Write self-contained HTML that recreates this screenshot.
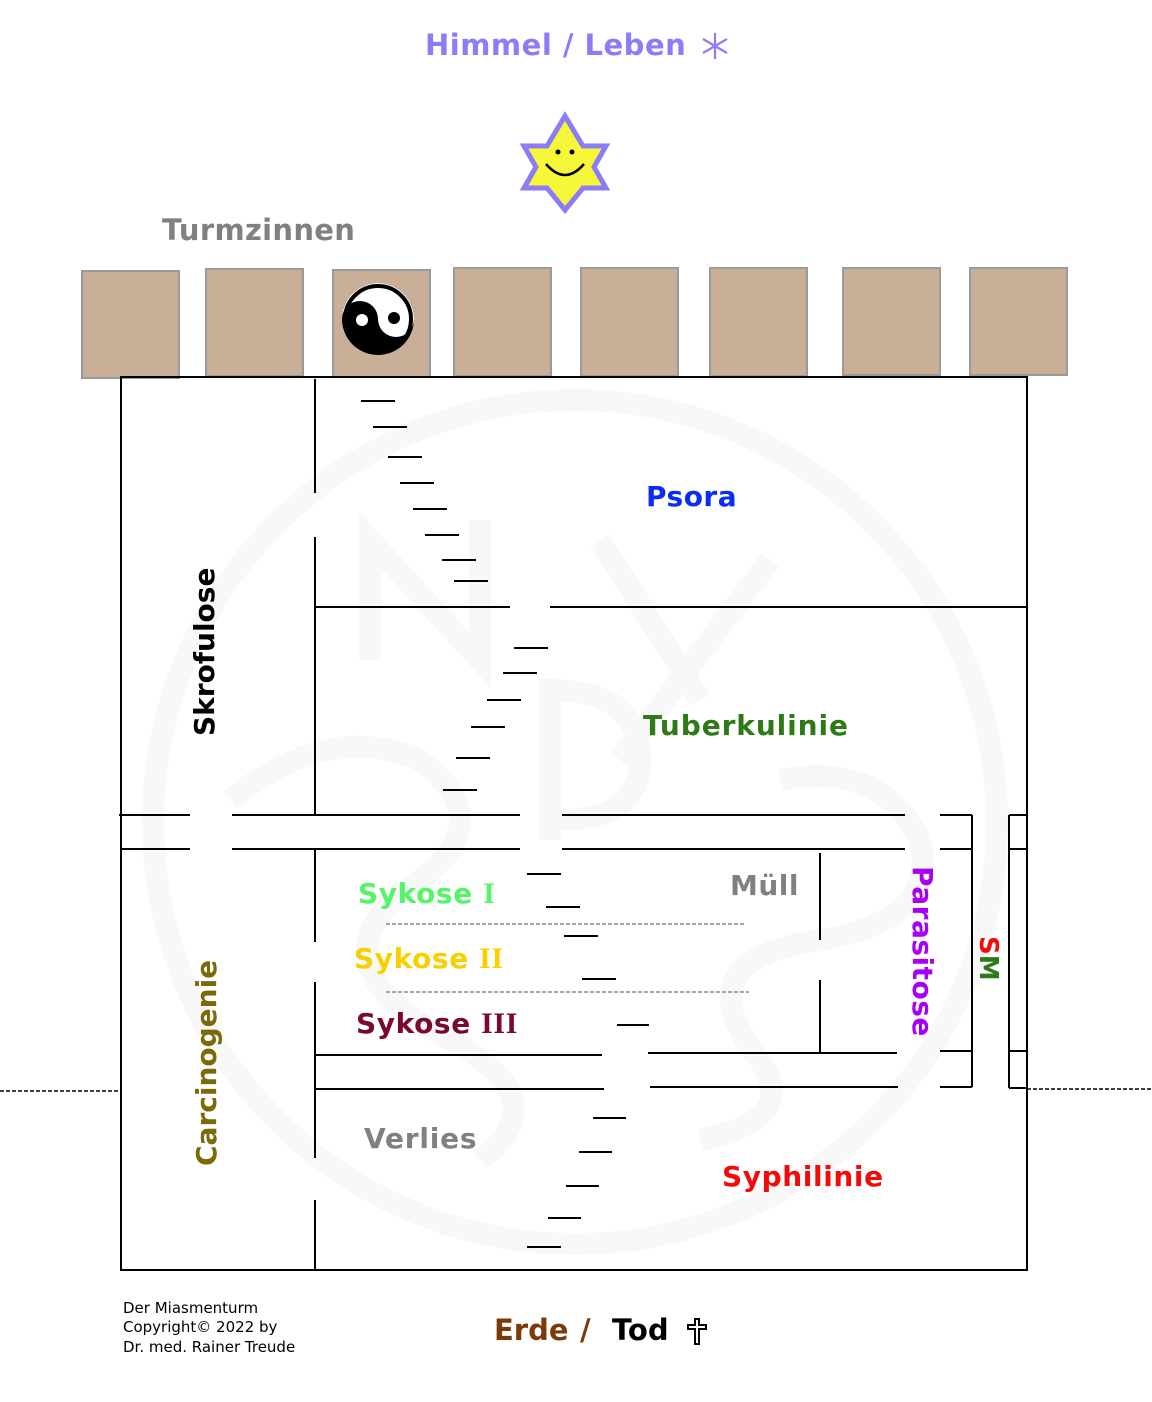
<!DOCTYPE html>
<html><head><meta charset="utf-8"><style>
html,body{margin:0;padding:0;background:#fff}
svg{display:block}
text{font-family:"DejaVu Sans","Liberation Sans",sans-serif;font-weight:bold}
text.n{font-weight:normal}
</style></head><body>
<svg width="1152" height="1402" viewBox="0 0 1152 1402" xmlns="http://www.w3.org/2000/svg">
<!-- watermark -->
<g fill="none" stroke="#f8f8f8" stroke-width="22">
<circle cx="575" cy="822" r="422"/>
<path d="M370 660 L370 540 L480 660 L480 520"/>
<path d="M600 540 L700 700 M770 560 L620 760"/>
<path d="M550 840 L550 690 Q640 690 640 760 Q640 820 560 820"/>
<path d="M230 800 Q330 720 420 760 Q500 820 420 880 Q300 960 450 1040 Q560 1100 480 1160"/>
<path d="M780 780 Q880 760 920 840 Q940 920 820 940 Q680 960 760 1060 Q800 1120 700 1140"/>
</g>
<!-- title -->
<text x="425" y="55" font-size="29" fill="#8b7cf7" letter-spacing="0.5">Himmel / Leben</text>
<g stroke="#8b7cf7" stroke-width="2.2"><path d="M715 33V59 M703 39L727 53 M703 53L727 39"/></g>
<!-- star -->
<polygon points="565,116 583,146 606,146 594,167 606,188 583,188 565,210 547,188 524,188 536,167 524,146 547,146" fill="#f7f73a" stroke="#8b7cf7" stroke-width="5"/>
<circle cx="558" cy="152" r="2.5" fill="#000"/><circle cx="572" cy="152" r="2.5" fill="#000"/>
<path d="M546 164 Q565 186 584 164" fill="none" stroke="#000" stroke-width="2.5"/>
<text x="162" y="240" font-size="29" fill="#808080" letter-spacing="0.3">Turmzinnen</text>
<!-- blocks -->
<g fill="#c9ae98" stroke="#9a9a9a" stroke-width="2">
<rect x="82" y="271" width="97" height="107"/>
<rect x="206" y="269" width="97" height="107"/>
<rect x="333" y="270" width="97" height="107"/>
<rect x="454" y="268" width="97" height="108"/>
<rect x="581" y="268" width="97" height="108"/>
<rect x="710" y="268" width="97" height="108"/>
<rect x="843" y="268" width="97" height="107"/>
<rect x="970" y="268" width="97" height="107"/>
</g>
<!-- yin yang -->
<circle cx="378" cy="319" r="36" fill="#000"/>
<path d="M342 319 A36 36 0 0 1 414 319 Z" fill="#fff"/>
<circle cx="360" cy="319" r="18" fill="#000"/>
<circle cx="396" cy="319" r="18" fill="#fff"/>
<circle cx="362" cy="320" r="6" fill="#fff"/>
<circle cx="394" cy="318" r="6" fill="#000"/>
<circle cx="378" cy="319" r="33" fill="none" stroke="#000" stroke-width="4"/>
<!-- main box -->
<rect x="121" y="377" width="906" height="893" fill="none" stroke="#000" stroke-width="2"/>
<g stroke="#000" stroke-width="2" fill="none">
<path d="M315 379V493 M315 537V815 M315 850V942 M315 982V1158 M315 1200V1270"/>
<path d="M315 607H510 M550 607H1027"/>
<path d="M119 815H190 M232 815H520 M562 815H905 M940 815H972"/>
<path d="M121 849H190 M232 849H520 M562 849H905 M940 849H972"/>
<path d="M972 815V1087"/>
<path d="M315 1055H602 M648 1053H897 M940 1051H972"/>
<path d="M315 1089H604 M650 1087H898 M940 1087H972"/>
<path d="M820 853V940 M820 980V1053"/>
<path d="M1009 815V1088 M1009 815H1027 M1009 849H1027 M1009 1051H1027 M1009 1088H1027"/>
<path d="M361 401H395 M373 427H407 M388 457H422 M400 483H434 M413 509H447 M425 535H459 M442 560H476 M454 581H488"/>
<path d="M514 648H548 M503 673H537 M487 700H521 M471 727H505 M456 758H490 M443 790H477"/>
<path d="M527 874H561 M546 907H580 M564 936H598 M582 979H616 M617 1025H649"/>
<path d="M593 1118H626 M579 1152H612 M566 1186H599 M548 1218H581 M527 1247H561"/>
</g>
<g stroke="#888" stroke-width="1.5" stroke-dasharray="4 2">
<path d="M386 924H746 M386 992H749"/>
</g>
<g stroke="#000" stroke-width="1.5" stroke-dasharray="4 2">
<path d="M0 1091H121 M1027 1089H1152"/>
</g>
<!-- labels -->
<text x="646" y="506" font-size="28" fill="#0a2cf5" letter-spacing="0.5">Psora</text>
<text x="643" y="735" font-size="28" fill="#2e7a16" letter-spacing="0.9">Tuberkulinie</text>
<text x="358" y="903" font-size="28" fill="#55f56a" letter-spacing="0.6">Sykose <tspan font-family="Liberation Serif" font-size="30">I</tspan></text>
<text x="354" y="968" font-size="28" fill="#f7d000" letter-spacing="0.6">Sykose <tspan font-family="Liberation Serif" font-size="30">II</tspan></text>
<text x="356" y="1033" font-size="28" fill="#7a0a2a" letter-spacing="0.6">Sykose <tspan font-family="Liberation Serif" font-size="30">III</tspan></text>
<text x="730" y="895" font-size="28" fill="#808080" letter-spacing="0.5">Müll</text>
<text x="364" y="1148" font-size="28" fill="#808080" letter-spacing="0.8">Verlies</text>
<text x="722" y="1186" font-size="28" fill="#f50a0a" letter-spacing="0.6">Syphilinie</text>
<text transform="translate(214,736) rotate(-90)" font-size="28" fill="#000">Skrofulose</text>
<text transform="translate(216,1166) rotate(-90)" font-size="28" fill="#7a6a0a">Carcinogenie</text>
<text transform="translate(913,866) rotate(90)" font-size="28" fill="#a800f5" letter-spacing="0.5">Parasitose</text>
<text transform="translate(980,936) rotate(90)" font-size="26"><tspan fill="#f50a0a">S</tspan><tspan fill="#2e7a16">M</tspan></text>
<text class="n" x="123" y="1313" font-size="15" fill="#000">Der Miasmenturm</text>
<text class="n" x="123" y="1332" font-size="15" fill="#000">Copyright© 2022 by</text>
<text class="n" x="123" y="1352" font-size="15" fill="#000">Dr. med. Rainer Treude</text>
<text x="494" y="1340" font-size="29" fill="#7a3a0a">Erde</text>
<text x="580" y="1340" font-size="29" fill="#7a3a0a">/</text>
<text x="612" y="1340" font-size="29" fill="#000">Tod</text>
<g fill="#000"><rect x="694" y="1318" width="6" height="27"/><rect x="687" y="1324" width="20" height="6"/></g>
<g fill="#fff"><rect x="696" y="1320" width="2" height="23"/><rect x="689" y="1326" width="16" height="2"/></g>
</svg>
</body></html>
